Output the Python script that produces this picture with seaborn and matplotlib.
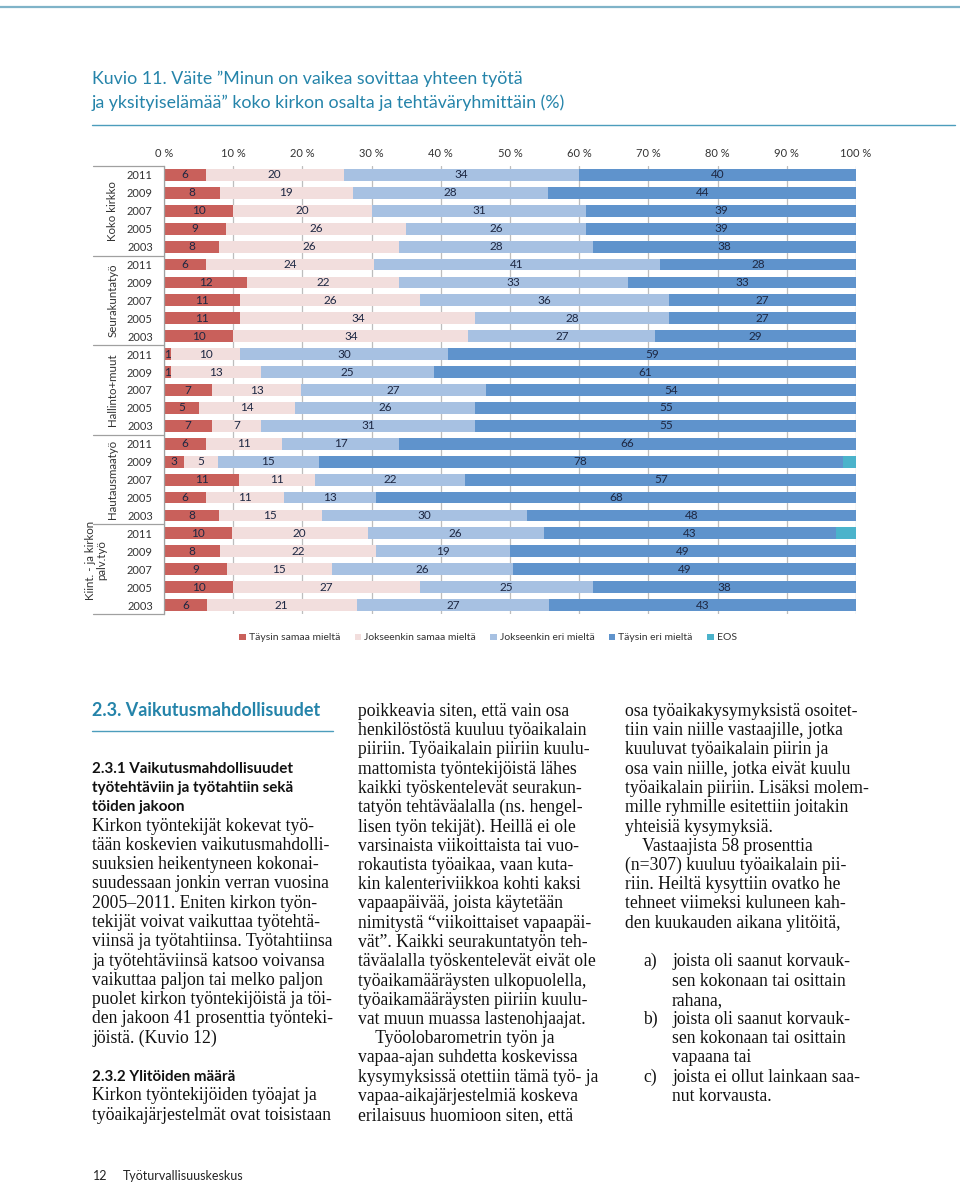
import numpy as np
import pandas as pd
import matplotlib
matplotlib.use("Agg")
import matplotlib.pyplot as plt
import matplotlib.transforms as mtransforms
from matplotlib.patches import Patch
from matplotlib.lines import Line2D
import seaborn as sns

# --- data ---
groups = ["Koko kirkko", "Seurakuntatyö", "Hallinto+muut", "Hautausmaatyö", "Kiint. - ja kirkon\npalv.työ"]
years = ["2011", "2009", "2007", "2005", "2003"]
series = ["Täysin samaa mieltä", "Jokseenkin samaa mieltä", "Jokseenkin eri mieltä", "Täysin eri mieltä", "EOS"]

taysin_samaa = [6, 8, 10, 9, 8, 6, 12, 11, 11, 10, 1, 1, 7, 5, 7, 6, 3, 11, 6, 8, 10, 8, 9, 10, 6]
jokseenkin_samaa = [20, 19, 20, 26, 26, 24, 22, 26, 34, 34, 10, 13, 13, 14, 7, 11, 5, 11, 11, 15, 20, 22, 15, 27, 21]
jokseenkin_eri = [34, 28, 31, 26, 28, 41, 33, 36, 28, 27, 30, 25, 27, 26, 31, 17, 15, 22, 13, 30, 26, 19, 26, 25, 27]
taysin_eri = [40, 44, 39, 39, 38, 28, 33, 27, 27, 29, 59, 61, 54, 55, 55, 66, 78, 57, 68, 48, 43, 49, 49, 38, 43]
eos = [0, 0, 0, 0, 0, 0, 0, 0, 0, 0, 0, 0, 0, 0, 0, 0, 2, 0, 0, 0, 3, 0, 0, 0, 0]

colors = ["#C9605B", "#F2DEDD", "#A7C1E2", "#5F93CC", "#4BB3CB"]

col1 = [
    ("b", "2.3.1 Vaikutusmahdollisuudet"),
    ("b", "työtehtäviin ja työtahtiin sekä"),
    ("b", "töiden jakoon"),
    ("s", "Kirkon työntekijät kokevat työ-"),
    ("s", "tään koskevien vaikutusmahdolli-"),
    ("s", "suuksien heikentyneen kokonai-"),
    ("s", "suudessaan jonkin verran vuosina"),
    ("s", "2005–2011. Eniten kirkon työn-"),
    ("s", "tekijät voivat vaikuttaa työtehtä-"),
    ("s", "viinsä ja työtahtiinsa. Työtahtiinsa"),
    ("s", "ja työtehtäviinsä katsoo voivansa"),
    ("s", "vaikuttaa paljon tai melko paljon"),
    ("s", "puolet kirkon työntekijöistä ja töi-"),
    ("s", "den jakoon 41 prosenttia työnteki-"),
    ("s", "jöistä. (Kuvio 12)"),
    ("s", ""),
    ("b", "2.3.2 Ylitöiden määrä"),
    ("s", "Kirkon työntekijöiden työajat ja"),
    ("s", "työaikajärjestelmät ovat toisistaan"),
]
col2 = [
    "poikkeavia siten, että vain osa",
    "henkilöstöstä kuuluu työaikalain",
    "piiriin. Työaikalain piiriin kuulu-",
    "mattomista työntekijöistä lähes",
    "kaikki työskentelevät seurakun-",
    "tatyön tehtäväalalla (ns. hengel-",
    "lisen työn tekijät). Heillä ei ole",
    "varsinaista viikoittaista tai vuo-",
    "rokautista työaikaa, vaan kuta-",
    "kin kalenteriviikkoa kohti kaksi",
    "vapaapäivää, joista käytetään",
    "nimitystä “viikoittaiset vapaapäi-",
    "vät”. Kaikki seurakuntatyön teh-",
    "täväalalla työskentelevät eivät ole",
    "työaikamääräysten ulkopuolella,",
    "työaikamääräysten piiriin kuulu-",
    "vat muun muassa lastenohjaajat.",
    "    Työolobarometrin työn ja",
    "vapaa-ajan suhdetta koskevissa",
    "kysymyksissä otettiin tämä työ- ja",
    "vapaa-aikajärjestelmiä koskeva",
    "erilaisuus huomioon siten, että",
]
col3 = [
    ("", "osa työaikakysymyksistä osoitet-"),
    ("", "tiin vain niille vastaajille, jotka"),
    ("", "kuuluvat työaikalain piirin ja"),
    ("", "osa vain niille, jotka eivät kuulu"),
    ("", "työaikalain piiriin. Lisäksi molem-"),
    ("", "mille ryhmille esitettiin joitakin"),
    ("", "yhteisiä kysymyksiä."),
    ("", "    Vastaajista 58 prosenttia"),
    ("", "(n=307) kuuluu työaikalain pii-"),
    ("", "riin. Heiltä kysyttiin ovatko he"),
    ("", "tehneet viimeksi kuluneen kah-"),
    ("", "den kuukauden aikana ylitöitä,"),
    ("", ""),
    ("a)", "joista oli saanut korvauk-"),
    ("", "sen kokonaan tai osittain"),
    ("", "rahana,"),
    ("b)", "joista oli saanut korvauk-"),
    ("", "sen kokonaan tai osittain"),
    ("", "vapaana tai"),
    ("c)", "joista ei ollut lainkaan saa-"),
    ("", "nut korvausta."),
]

rows = [g + "|" + y for g in groups for y in years]
df = pd.DataFrame({"row": rows, series[0]: taysin_samaa, series[1]: jokseenkin_samaa,
                   series[2]: jokseenkin_eri, series[3]: taysin_eri, series[4]: eos})
# 100 % stacked bars, like the original Excel chart
pct = df[series].div(df[series].sum(axis=1), axis=0) * 100
cum = pct.cumsum(axis=1)

sns.set_style("white")
plt.rcParams["font.family"] = ["Lato", "DejaVu Sans"]

W, H = 960, 1186
fig = plt.figure(figsize=(W / 100, H / 100), dpi=100)
fx = lambda x: x / W
fy = lambda y: 1 - y / H

ax = fig.add_axes([fx(164), fy(614), fx(856) - fx(164), 448 / H])
for s, c in reversed(list(zip(series, colors))):
    sns.barplot(x=cum[s], y=df["row"], order=rows, orient="h", color=c, saturation=1,
                width=0.66, linewidth=0, ax=ax)

for i in range(len(rows)):
    left = 0
    for s in series[:4]:
        w = pct.iloc[i][s]
        ax.text(left + w / 2, i, str(df.iloc[i][s]), ha="center", va="center",
                fontsize=8.5, color="#1d2742")
        left += w

ax.set_xlim(0, 100)
ax.set_ylim(len(rows) - 0.5, -0.5)
ax.xaxis.tick_top()
ax.set_xticks(range(0, 101, 10))
ax.set_xticklabels([f"{v} %" for v in range(0, 101, 10)])
ax.set_yticks(range(len(rows)))
ax.set_yticklabels([r.split("|")[1] for r in rows])
ax.tick_params(axis="both", length=0, labelsize=8, labelcolor="#333333")
ax.tick_params(axis="x", pad=5)
ax.tick_params(axis="y", pad=8)
ax.set_xlabel("")
ax.set_ylabel("")
ax.set_axisbelow(True)
ax.xaxis.grid(True, color="#BDBDBD", lw=0.9)
for sp in ["top", "right", "bottom"]:
    ax.spines[sp].set_visible(False)
ax.spines["left"].set_color("#A0A0A0")
ax.spines["left"].set_linewidth(0.9)

tr = mtransforms.blended_transform_factory(ax.transAxes, ax.transData)
xsep = (93 - 164) / 692
for k in range(len(groups) + 1):
    b = k * len(years) - 0.5
    ax.plot([xsep, 0], [b, b], transform=tr, color="#A0A0A0", lw=0.9, clip_on=False)
for k, g in enumerate(groups):
    mid = k * len(years) + (len(years) - 1) / 2
    if "\n" in g:
        xg, mid = (96 - 164) / 692, mid - 0.5
    else:
        xg = (113 - 164) / 692
    ax.text(xg, mid, g, transform=tr, rotation=90, ha="center", va="center",
            fontsize=8.3, color="#333333", multialignment="center", linespacing=1.05)

handles = [Patch(facecolor=c, edgecolor="none", label=s) for s, c in zip(series, colors)]
fig.legend(handles=handles, loc="center", bbox_to_anchor=(fx(488), fy(638)), ncol=5,
           frameon=False, fontsize=7.5, handlelength=0.6, handleheight=0.6,
           handletextpad=0.3, columnspacing=1.4, labelcolor="#333333")

# --- page furniture ---
teal = "#2584AA"
fig.add_artist(Line2D([0, 1], [fy(7), fy(7)], transform=fig.transFigure, color="#7FB3C8", lw=1.6))
fig.text(fx(92), fy(84), "Kuvio 11. Väite ”Minun on vaikea sovittaa yhteen työtä",
         fontsize=12.8, color=teal, va="baseline")
fig.text(fx(92), fy(108), "ja yksityiselämää” koko kirkon osalta ja tehtäväryhmittäin (%)",
         fontsize=12.8, color=teal, va="baseline")
fig.add_artist(Line2D([fx(92), fx(955)], [fy(125), fy(125)], transform=fig.transFigure,
                      color="#4C9DBC", lw=1))

fig.text(fx(92), fy(716), "2.3. Vaikutusmahdollisuudet", fontsize=13, fontweight="bold",
         color=teal, va="baseline")
fig.add_artist(Line2D([fx(92), fx(333)], [fy(731), fy(731)], transform=fig.transFigure,
                      color="#4C9DBC", lw=1))

serif = ["Liberation Serif", "DejaVu Serif"]
body = 12.7
dy = 19.25
for i, (kind, t) in enumerate(col1):
    yb = 768 + i * dy + 5
    if kind == "b":
        fig.text(fx(92), fy(yb), t, fontsize=10.9, fontweight="bold", color="#111111", va="baseline")
    else:
        fig.text(fx(92), fy(yb), t, fontsize=body, family=serif, color="#111111", va="baseline")
for i, t in enumerate(col2):
    fig.text(fx(358), fy(711 + i * dy + 5), t, fontsize=body, family=serif, color="#111111",
             va="baseline")
for i, (mark, t) in enumerate(col3):
    yb = fy(711 + i * dy + 5)
    if mark:
        fig.text(fx(643), yb, mark, fontsize=body, family=serif, color="#111111", va="baseline")
    x0 = 672 if i >= 13 else 625
    fig.text(fx(x0), yb, t, fontsize=body, family=serif, color="#111111", va="baseline")

fig.text(fx(93), fy(1180), "12", fontsize=9, color="#222222", va="baseline")
fig.text(fx(123), fy(1180), "Työturvallisuuskeskus", fontsize=9, color="#222222", va="baseline")

fig.savefig("out.png", dpi=100)
